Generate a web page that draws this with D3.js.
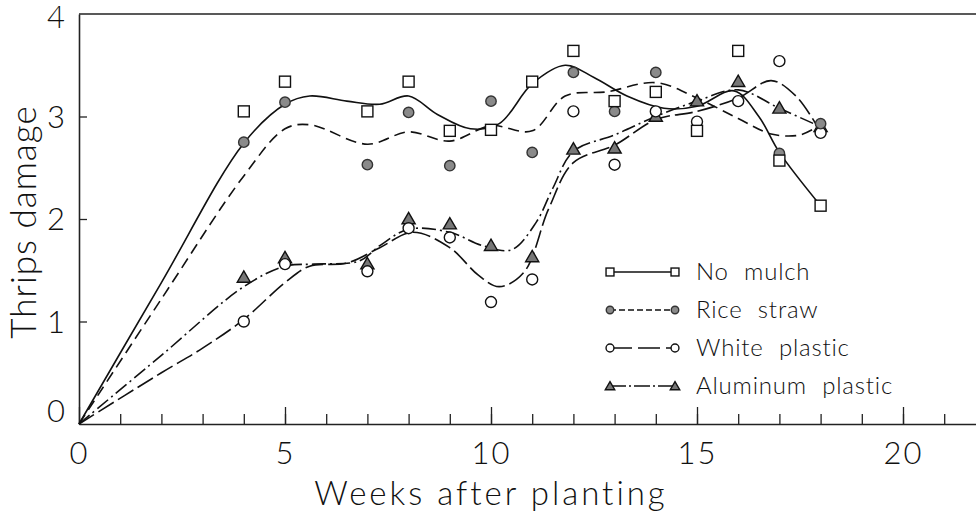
<!DOCTYPE html>
<meta charset="utf-8">
<html>
<head>
<style>
  body { margin: 0; background: #fff; }
  text { font-family: "Lato", "DejaVu Sans", sans-serif; font-weight: 300; fill: #111; }
</style>
</head>
<body>
<div id="chart"></div>
<script src="https://d3js.org/d3.v7.min.js"></script>
<script>

  // weeks where damage was scored
  var weeks = [4, 5, 7, 8, 9, 10, 11, 12, 13, 14, 15, 16, 17, 18];

  // observed thrips damage (null = not visible in the figure)
  var noMulch        = [3.05, 3.34, 3.05, 3.34, 2.86, 2.87, 3.34, 3.64, 3.15, 3.24, 2.86, 3.64, 2.57, 2.13];
  var riceStraw      = [2.75, 3.14, 2.53, 3.04, 2.52, 3.15, 2.65, 3.43, 3.05, 3.43, null, null, 2.64, 2.93];
  var whitePlastic   = [1.00, 1.56, 1.49, 1.91, 1.82, 1.19, 1.41, 3.05, 2.53, 3.05, 2.95, 3.15, 3.54, 2.84];
  var aluminumPlastic= [1.43, 1.62, 1.56, 2.00, 1.95, 1.74, 1.63, 2.68, 2.69, 3.00, 3.15, 3.34, 3.08, 2.90];

  // fitted curves [week, damage]
  var noMulchFit = [[0,0],[2,1.38],[4,2.74],[5,3.12],[5.6,3.2],[6.5,3.15],[7.3,3.12],[8,3.2],[8.7,3.02],
                    [9.5,2.88],[10.2,2.93],[11,3.32],[11.8,3.5],[12.5,3.38],[13.3,3.2],[14.2,3.08],[15,3.1],
                    [15.9,3.25],[16.5,3.0],[17,2.65],[18,2.13]];
  var riceStrawFit = [[0,0],[2,1.22],[4,2.42],[5,2.88],[5.6,2.92],[7,2.73],[8,2.85],[9,2.76],[10,2.91],
                      [11,2.86],[11.8,3.2],[12.8,3.24],[14,3.33],[15,3.18],[16,2.98],[16.8,2.83],[17.5,2.82],[18,2.92]];
  var whitePlasticFit = [[0,0],[2,0.5],[3,0.74],[4,1.02],[5,1.38],[5.6,1.54],[6.5,1.57],[7.3,1.72],[8.1,1.87],
                         [9,1.72],[9.7,1.45],[10.2,1.34],[10.8,1.48],[11.4,2.1],[12,2.55],[13,2.72],[14,2.97],
                         [15,3.05],[16,3.18],[16.8,3.35],[17.4,3.2],[18,2.85]];
  var aluminumPlasticFit = [[0,0],[2,0.67],[4,1.34],[5,1.54],[5.7,1.56],[6.8,1.59],[7.3,1.74],[8,1.9],[9,1.87],
                            [9.8,1.74],[10.5,1.7],[11.1,1.97],[11.5,2.3],[12,2.66],[13,2.82],[14,3.0],[15,3.15],
                            [16,3.26],[17,3.08],[18,2.9]];

  var seriesNames = ["No mulch", "Rice straw", "White plastic", "Aluminum plastic"];
  var xTickLabels = [0, 5, 10, 15, 20];
  var yTickLabels = [0, 1, 2, 3, 4];

  var series = [
    { name: seriesNames[0], values: noMulch,         fit: noMulchFit,         marker: "square",   dash: null },
    { name: seriesNames[1], values: riceStraw,       fit: riceStrawFit,       marker: "dot",      dash: "11,6" },
    { name: seriesNames[2], values: whitePlastic,    fit: whitePlasticFit,    marker: "circle",   dash: "18,5" },
    { name: seriesNames[3], values: aluminumPlastic, fit: aluminumPlasticFit, marker: "triangle", dash: "14,4,2,4" }
  ];

  var W = 976, H = 513;
  var plotLeft = 79, plotBottom = 424, plotTop = 14;

  var svg = d3.select("#chart").append("svg")
      .attr("width", W).attr("height", H);

  var x = d3.scaleLinear().domain([0, 21.8]).range([plotLeft, plotLeft + 21.8 * 41.2]);
  var y = d3.scaleLinear().domain([0, 4]).range([plotBottom, plotTop]);

  // top frame line
  svg.append("line")
    .attr("x1", plotLeft).attr("x2", W).attr("y1", y(4)).attr("y2", y(4))
    .attr("stroke", "#222").attr("stroke-width", 1.3);

  // minor x ticks every week
  svg.append("g")
    .attr("transform", "translate(0," + plotBottom + ")")
    .call(d3.axisBottom(x).tickValues(d3.range(1, 22)).tickSize(-10).tickFormat(""))
    .call(function(g) { g.select(".domain").remove(); })
    .selectAll("line").attr("stroke", "#222").attr("stroke-width", 1.3);

  // major x ticks + labels
  var xAxis = svg.append("g")
    .attr("transform", "translate(0," + plotBottom + ")")
    .call(d3.axisBottom(x).tickValues(xTickLabels).tickSize(-17).tickPadding(18)
      .tickSizeOuter(0).tickFormat(d3.format("d")));
  xAxis.select(".domain").attr("stroke", "#222").attr("stroke-width", 1.6);
  xAxis.selectAll("line").attr("stroke", "#222").attr("stroke-width", 1.3);
  xAxis.selectAll("text").style("font-size", "31px").style("font-family", "Lato, 'DejaVu Sans', sans-serif")
    .style("font-weight", 300).style("letter-spacing", "2px").attr("fill", "#111");

  // y axis
  var yAxis = svg.append("g")
    .attr("transform", "translate(" + plotLeft + ",0)")
    .call(d3.axisLeft(y).tickValues(yTickLabels).tickSize(-8).tickPadding(14)
      .tickSizeOuter(0).tickFormat(d3.format("d")));
  yAxis.select(".domain").attr("stroke", "#222").attr("stroke-width", 1.6);
  yAxis.selectAll("line").attr("stroke", "#222").attr("stroke-width", 1.3)
    .filter(function(d) { return d == 0 || d == 4; }).remove();
  yAxis.selectAll("text").style("font-size", "31px").style("font-family", "Lato, 'DejaVu Sans', sans-serif")
    .style("font-weight", 300).attr("fill", "#111")
    .attr("dy", function(d) { return d == 0 ? "-0.08em" : d == 4 ? "0.42em" : "0.35em"; });

  // axis titles
  svg.append("text")
    .attr("x", x(10)).attr("y", 505)
    .attr("text-anchor", "middle")
    .style("font-size", "33px")
    .style("letter-spacing", "3px")
    .text("Weeks after planting");

  svg.append("text")
    .attr("transform", "translate(36," + 222 + ") rotate(-90)")
    .attr("text-anchor", "middle")
    .style("font-size", "35px")
    .style("letter-spacing", "1px")
    .text("Thrips damage");

  // fitted curves
  var curve = d3.line()
    .x(function(d) { return x(d[0]); })
    .y(function(d) { return y(d[1]); })
    .curve(d3.curveCatmullRom.alpha(0.5));

  series.forEach(function(s) {
    svg.append("path")
      .datum(s.fit)
      .attr("fill", "none")
      .attr("stroke", "#111")
      .attr("stroke-width", 1.6)
      .attr("stroke-dasharray", s.dash)
      .attr("d", curve);
  });

  // marker drawing
  function drawMarker(g, type, cx, cy, k) {
    if (type == "square") {
      g.append("rect").attr("x", cx - 5.5 * k).attr("y", cy - 5.5 * k)
        .attr("width", 11 * k).attr("height", 11 * k)
        .attr("fill", "#fff").attr("stroke", "#111").attr("stroke-width", 1.4);
    } else if (type == "dot") {
      g.append("circle").attr("cx", cx).attr("cy", cy).attr("r", 5.2 * k)
        .attr("fill", "#8a8a8a").attr("stroke", "#333").attr("stroke-width", 1.4);
    } else if (type == "circle") {
      g.append("circle").attr("cx", cx).attr("cy", cy).attr("r", 5.5 * k)
        .attr("fill", "#fff").attr("stroke", "#111").attr("stroke-width", 1.4);
    } else {
      var t = d3.symbol().type(d3.symbolTriangle).size(75 * k * k);
      g.append("path").attr("d", t())
        .attr("transform", "translate(" + cx + "," + (cy + 1) + ")")
        .attr("fill", "#777").attr("stroke", "#111").attr("stroke-width", 1.4);
    }
  }

  // observed points
  var pts = svg.append("g");
  [3, 2, 1, 0].forEach(function(i) {
    var s = series[i];
    weeks.forEach(function(w, j) {
      if (s.values[j] == null) return;
      drawMarker(pts, s.marker, x(w), y(s.values[j]), 1);
    });
  });

  // legend
  var legendY = d3.scaleLinear().domain([0, 3]).range([272, 386]);
  var legend = svg.append("g");
  series.forEach(function(s, i) {
    var ly = legendY(i);
    legend.append("line")
      .attr("x1", 610).attr("x2", 675).attr("y1", ly).attr("y2", ly)
      .attr("stroke", "#111").attr("stroke-width", 1.3)
      .attr("stroke-dasharray", s.dash == null ? null : (i == 1 ? "6,3" : i == 2 ? "22,6" : "16,3,2,3"));
    drawMarker(legend, s.marker, 610, ly, 0.72);
    drawMarker(legend, s.marker, 675, ly, 0.72);
    legend.append("text")
      .attr("x", 696).attr("y", ly + 8)
      .style("font-size", "24px")
      .style("letter-spacing", "0.8px")
      .style("word-spacing", "8px")
      .text(s.name);
  });

</script>
</body>
</html>
